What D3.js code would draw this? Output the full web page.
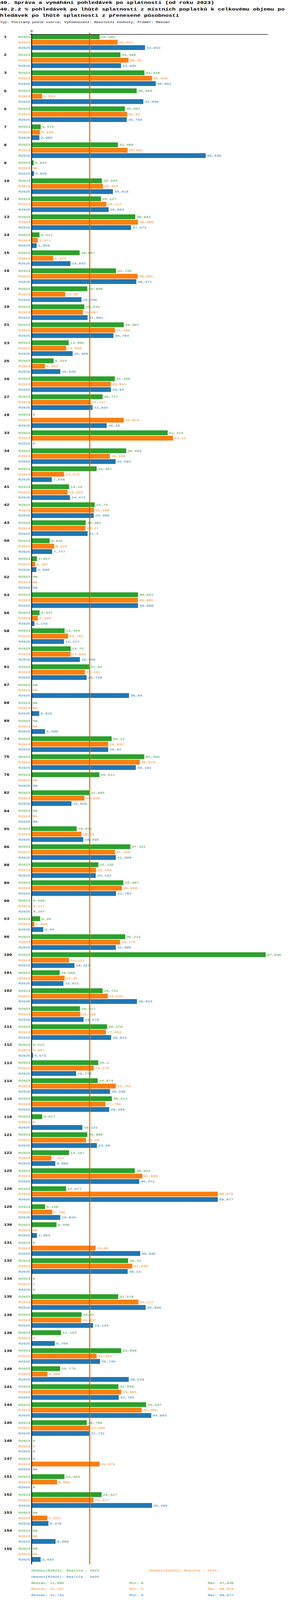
<!DOCTYPE html>
<html>
<head>
<meta charset="utf-8">
<script src="https://cdn.jsdelivr.net/npm/d3@7"></script>
<style>
  html, body { margin: 0; padding: 0; background: #fff; overflow: hidden; }
  svg { display: block; }
  text { font-family: "Liberation Mono", "DejaVu Sans Mono", monospace; }
</style>
</head>
<body>
<div id="chart"></div>
<script>
// Category numbers (rows) as shown on the left
var categories = [1, 2, 3, 5, 6, 7, 8, 9, 10, 12, 13, 14, 15, 16, 18, 19, 21, 23, 25, 26, 27, 28, 33, 34, 39, 41, 42, 43,
  50, 51, 52, 53, 56, 58, 60, 61, 67, 68, 69, 74, 75, 76, 82, 84, 85, 86, 88, 89, 90, 93, 96, 100, 101, 102, 106,
  111, 112, 113, 114, 115, 118, 121, 122, 125, 126, 129, 130, 131, 132, 134, 135, 136, 138, 139, 140, 141,
  144, 145, 146, 147, 151, 152, 153, 154, 155];

// null = NA
var r2023 = [25.595, 33.398, 42.416, 39.493, 35.087, 3.474, 32.469, 0.822, 26.444, 26.127, 38.943, 3.011, 18.087, 31.746,
  20.986, 19.833, 34.667, 13.995, 8.314, 31.289, 26.717, 0, 51.153, 35.563, 24.467, 14.14, 23.73, 20.392,
  6.845, 2.057, null, 40.021, 3.037, 12.444, 14.72, 21.62, null, null, null, 30.12, 42.355, 25.511, 21.695, null,
  16.972, 37.151, 25.135, 34.487, 0.039, 3.28, 35.212, 87.936, 10.588, 26.721, 18.217,
  28.378, 0.015, 25.1, 24.874, 30.211, 4.017, 20.989, 14.107, 38.823, 12.977, 5.136, 9.406, 0, 36.31, 0, 32.578,
  18.81, 11.103, 33.698, 10.779, 32.668, 43.047, 20.768, 0, 0, 12.383, 26.327, null, null, null];

var r2024 = [32.352, 36.45, 45.256, 4.054, 35.92, 3.238, 36.081, null, 26.853, 28.117, 39.998, 2.371, 8.124, 39.881,
  12.66, 19.297, 31.295, 13.046, 5.083, 29.801, 22.147, 34.654, 53.15, 29.466, 12.274, 13.543, 23.506, 20.27,
  8.524, 1.397, null, 39.965, 2.389, 13.761, 14.658, 20.101, null, null, null, 28.832, 40.679, null, 19.906, null,
  18.74, 31.336, 24.264, 33.948, 0.117, 1.093, 33.278, 14.121, 12.45, 28.645, 18.348,
  27.962, 0.007, 23.379, 31.702, 27.788, 0, 20.49, 7.457, 41.645, 69.978, 7.796, null, 24.05, 37.849, 0, 40.177,
  18.637, 0, 24.463, 6.005, 33.685, 41.365, 21.888, 0, 25.579, 9.605, 23.327, 5.933, null, null];

var r2025 = [42.653, 33.645, 46.681, 42.008, 35.794, 2.965, 65.436, 0.935, 30.618, 28.983, 37.374, 1.959, 14.642, 39.371,
  18.788, 21.091, 30.794, 15.466, 10.826, 29.83, 22.934, 28.26, 0, 31.592, 7.648, 14.471, 23.386, 21.1,
  7.777, 1.846, null, 39.999, 1.143, 12.217, 18.208, 20.729, 36.64, 2.915, 5.096, 28.82, 39.192, null, 15.029, null,
  19.439, 31.699, 24.142, 31.762, 0.107, 4.44, 31.695, 16.157, 12.011, 39.623, 19.579,
  29.913, 0.573, 16.779, 29.506, 29.204, 19.121, 24.56, 8.965, 40.471, 69.977, 10.828, 2.064, 40.835, 36.13, 0, 42.856,
  23.144, 8.764, 25.745, 36.534, 32.794, 44.993, 21.731, 0, null, 0, 45.285, 6.378, 9.069, 3.433];

var seriesNames = ["R2023", "R2024", "R2025"];
var seriesLegend = ["Období[R2023]: Realita - 2023", "Období[R2024]: Realita - 2024", "Období[R2025]: Realita - 2025"];
var seriesColors = ["#2ca02c", "#ff7f0e", "#1f77b4"];
var seriesValues = [r2023, r2024, r2025];

var titleLines = [
  "40. Správa a vymáhání pohledávek po splatnosti (od roku 2023)",
  "40.2.2 % pohledávek po lhůtě splatnosti z místních poplatků k celkovému objemu po",
  "hledávek po lhůtě splatnosti z přenesené působnosti"
];
var subtitle = "Typ: Počítaný podle vzorce, Vyhodnocení: Absolutní hodnoty, Průměr: Medián";

var width = 750, height = 5334;
var plotTop = 114.7, groupStep = 60, plotBottom = 5215;

// numbers are written with a decimal comma
function fmt(v) {
  if (v === null) return "NA";
  return String(v).replace(".", ",");
}

// drawing is done in 750x5334 units; the svg is fitted to the visible window
var viewH = window.innerHeight || height;
var svg = d3.select("#chart").append("svg")
    .attr("width", width)
    .attr("height", viewH)
    .attr("viewBox", "0 0 " + width + " " + height)
    .attr("preserveAspectRatio", "none");

// title block
svg.selectAll(".title")
    .data(titleLines)
    .enter()
    .append("text")
    .attr("class", "title")
    .attr("x", 0)
    .attr("y", function(d, i) { return 13.5 + i * 21.5; })
    .style("font-size", "15px")
    .style("font-weight", "bold")
    .text(function(d) { return d; });

svg.append("text")
    .attr("x", 0)
    .attr("y", 76.5)
    .style("font-size", "9.8px")
    .text(subtitle);

var allValues = [].concat(r2023, r2024, r2025).filter(function(v) { return v !== null; });

var x = d3.scaleLinear()
    .domain([0, d3.max(allValues) * 1.01])
    .range([80.5, 686]);

var y = d3.scaleBand()
    .domain(categories)
    .range([plotTop, plotTop + categories.length * groupStep])
    .paddingInner(0)
    .paddingOuter(0);

var ySeries = d3.scaleBand()
    .domain(seriesNames)
    .range([0, 52])
    .paddingInner(2 / 18);

// one flat list of cells: category x series
var cells = [];
categories.forEach(function(cat, i) {
  seriesNames.forEach(function(s, j) {
    cells.push({ cat: cat, series: s, color: seriesColors[j], value: seriesValues[j][i] });
  });
});

svg.selectAll(".bar")
    .data(cells.filter(function(d) { return d.value !== null && d.value > 0; }))
    .enter()
    .append("rect")
    .attr("class", "bar")
    .attr("x", x(0))
    .attr("y", function(d) { return y(d.cat) + ySeries(d.series); })
    .attr("width", function(d) { return x(d.value) - x(0); })
    .attr("height", ySeries.bandwidth())
    .attr("fill", function(d) { return d.color; });

// median lines
var medians = seriesValues.map(function(arr) { return d3.median(arr.filter(function(v) { return v !== null; })); });
svg.selectAll(".median")
    .data(medians)
    .enter()
    .append("line")
    .attr("class", "median")
    .attr("x1", function(d) { return Math.round(x(d)) + 0.5; })
    .attr("x2", function(d) { return Math.round(x(d)) + 0.5; })
    .attr("y1", 109)
    .attr("y2", plotBottom)
    .attr("stroke", function(d, i) { return seriesColors[i]; })
    .attr("stroke-width", 1);

// top axis with only the zero tick
var xAxis = d3.axisTop(x).tickValues([0]).tickSize(5).tickSizeOuter(0).tickPadding(3);
var gx = svg.append("g")
    .attr("transform", "translate(0," + plotTop + ")")
    .call(xAxis);
gx.select(".domain").attr("d", "M76,0H686").attr("stroke-width", 1.5);
gx.selectAll("text")
    .style("font-family", "'Liberation Mono', monospace")
    .style("font-size", "10px")
    .attr("fill", "#000");

// thick left axis
svg.append("line")
    .attr("x1", 81).attr("x2", 81)
    .attr("y1", plotTop - 1).attr("y2", plotBottom)
    .attr("stroke", "#000")
    .attr("stroke-width", 2);

// group numbers
svg.selectAll(".cat")
    .data(categories)
    .enter()
    .append("text")
    .attr("class", "cat")
    .attr("x", 10)
    .attr("y", function(d) { return y(d) + ySeries("R2023") + ySeries.bandwidth() / 2; })
    .attr("dy", "0.35em")
    .style("font-size", "11.5px")
    .style("font-weight", "bold")
    .text(function(d) { return d; });

// series names on each row
svg.selectAll(".slabel")
    .data(cells)
    .enter()
    .append("text")
    .attr("class", "slabel")
    .attr("x", 77.5)
    .attr("y", function(d) { return y(d.cat) + ySeries(d.series) + ySeries.bandwidth() / 2; })
    .attr("dy", "0.35em")
    .attr("text-anchor", "end")
    .attr("fill", function(d) { return d.color; })
    .style("font-size", "10px")
    .text(function(d) { return d.series; });

// value labels
svg.selectAll(".vlabel")
    .data(cells)
    .enter()
    .append("text")
    .attr("class", "vlabel")
    .attr("x", function(d) { return x(d.value === null ? 0 : d.value) + 3.5; })
    .attr("y", function(d) { return y(d.cat) + ySeries(d.series) + ySeries.bandwidth() / 2; })
    .attr("dy", "0.35em")
    .attr("fill", function(d) { return d.color; })
    .style("font-size", "10px")
    .text(function(d) { return fmt(d.value); });

// legend
var legendPos = [[80, 5236], [381, 5236], [80, 5256]];
svg.selectAll(".legend")
    .data(seriesLegend)
    .enter()
    .append("text")
    .attr("class", "legend")
    .attr("x", function(d, i) { return legendPos[i][0]; })
    .attr("y", function(d, i) { return legendPos[i][1]; })
    .attr("dy", "0.35em")
    .attr("fill", function(d, i) { return seriesColors[i]; })
    .style("font-size", "10px")
    .text(function(d) { return d; });

// median / min / max rows
seriesValues.forEach(function(arr, i) {
  var vals = arr.filter(function(v) { return v !== null; });
  var rowY = 5277 + i * 20;
  var stats = [
    [80, "Medián: " + fmt(d3.median(vals))],
    [331, "Min: " + fmt(d3.min(vals))],
    [532, "Max: " + fmt(d3.max(vals))]
  ];
  svg.selectAll(".stat" + i)
      .data(stats)
      .enter()
      .append("text")
      .attr("x", function(d) { return d[0]; })
      .attr("y", rowY)
      .attr("dy", "0.35em")
      .attr("fill", seriesColors[i])
      .style("font-size", "10px")
      .text(function(d) { return d[1]; });
});
</script>
</body>
</html>
